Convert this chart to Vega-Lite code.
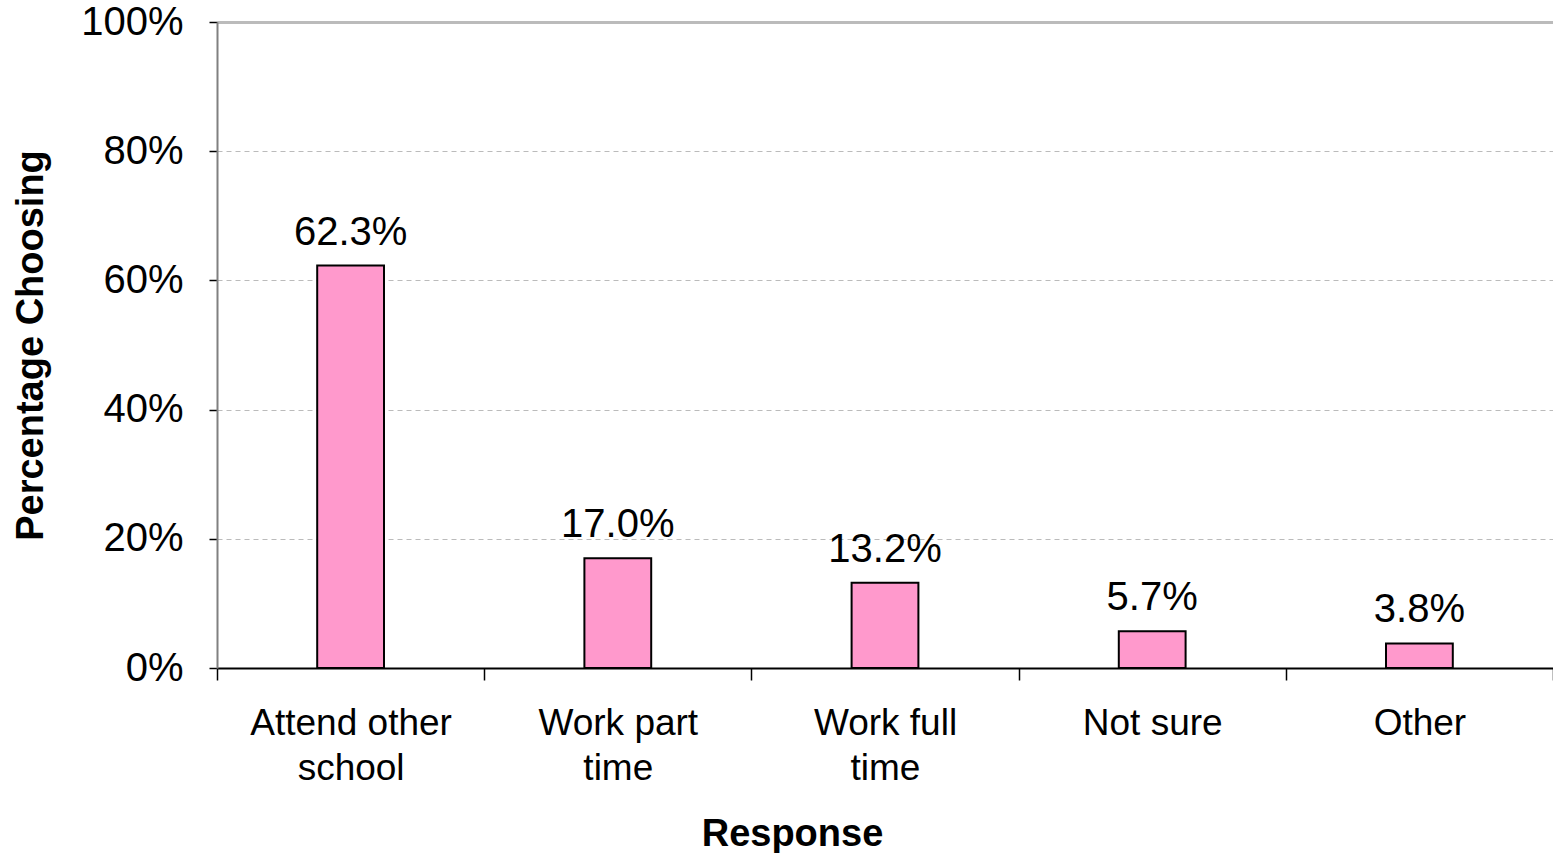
{
  "$schema": "https://vega.github.io/schema/vega-lite/v6.json",
  "width": 1336,
  "height": 646,
  "autosize": {"type": "none"},
  "padding": {"left": 217, "top": 22, "right": 0, "bottom": 185},
  "background": "white",
  "config": {"view": {"stroke": null}, "font": "Liberation Sans"},
  "data": {
    "values": [
      {"response": "Attend other school", "pct": 0.623},
      {"response": "Work part time", "pct": 0.170},
      {"response": "Work full time", "pct": 0.132},
      {"response": "Not sure", "pct": 0.057},
      {"response": "Other", "pct": 0.038}
    ]
  },
  "encoding": {
    "x": {
      "field": "response",
      "type": "nominal",
      "sort": null,
      "scale": {"paddingInner": 0, "paddingOuter": 0},
      "axis": {
        "title": "Response",
        "titleFont": "Liberation Sans",
        "titleFontSize": 38,
        "titleFontWeight": "bold",
        "titleColor": "black",
        "titleX": 575,
        "titleY": 166,
        "titleBaseline": "middle",
        "labelAngle": 0,
        "labelFont": "Liberation Sans",
        "labelFontSize": 37,
        "labelColor": "black",
        "labelPadding": 25,
        "labelLineHeight": 45,
        "labelLimit": 0,
        "labelExpr": "datum.label == 'Attend other school' ? ['Attend other', 'school'] : datum.label == 'Work part time' ? ['Work part', 'time'] : datum.label == 'Work full time' ? ['Work full', 'time'] : datum.label",
        "tickBand": "extent",
        "tickColor": "black",
        "tickSize": 12,
        "tickWidth": 1.5,
        "domainColor": "black",
        "domainWidth": 2,
        "grid": false
      }
    },
    "y": {
      "field": "pct",
      "type": "quantitative",
      "scale": {"domain": [0, 1]},
      "axis": {
        "title": "Percentage Choosing",
        "titleFont": "Liberation Sans",
        "titleFontSize": 38,
        "titleFontWeight": "bold",
        "titleColor": "black",
        "titlePadding": 30,
        "values": [0, 0.2, 0.4, 0.6, 0.8, 1],
        "format": ".0%",
        "labelFont": "Liberation Sans",
        "labelFontSize": 40,
        "labelColor": "black",
        "labelPadding": 26,
        "tickColor": "black",
        "tickSize": 8,
        "tickWidth": 1.5,
        "domainColor": "#808080",
        "domainWidth": 2,
        "grid": true,
        "gridColor": "#bbbbbb",
        "gridWidth": {"condition": {"test": "datum.value == 1", "value": 3}, "value": 1},
        "gridDash": {"condition": {"test": "datum.value == 1", "value": []}, "value": [5, 4]}
      }
    }
  },
  "layer": [
    {
      "mark": {"type": "bar", "width": {"band": 0.25}, "color": "#FF99CC", "stroke": "black", "strokeWidth": 2}
    },
    {
      "mark": {"type": "text", "baseline": "alphabetic", "dy": -21, "fontSize": 40, "font": "Liberation Sans", "color": "black"},
      "encoding": {"text": {"field": "pct", "type": "quantitative", "format": ".1%"}}
    }
  ]
}
